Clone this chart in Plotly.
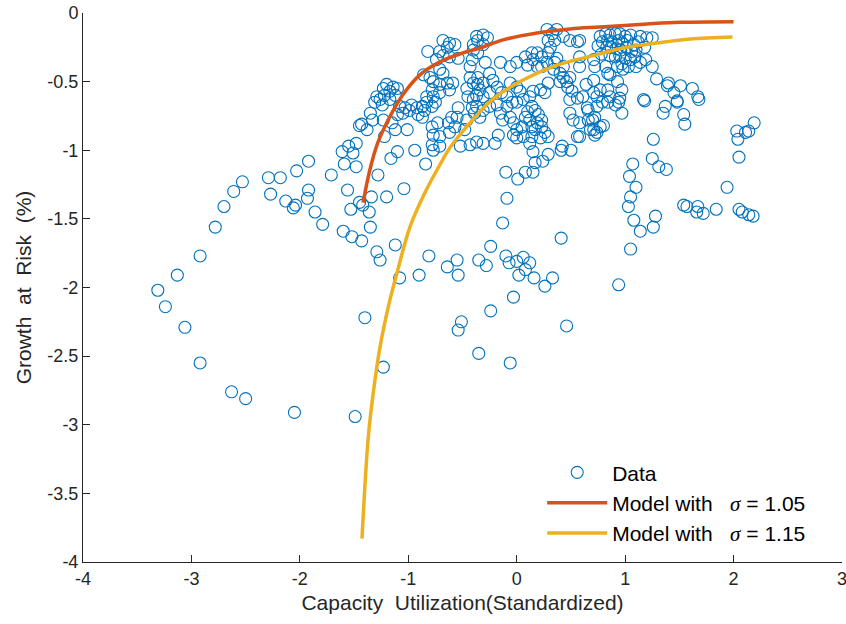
import plotly.graph_objects as go

# ---------------- data ----------------
data_x = [
 -3.31,-3.24,-3.13,-3.06,-2.92,-2.92,-2.78,-2.70,-2.63,-2.61,-2.53,-2.50,-2.29,-2.27,-2.18,-2.13,-2.06,-2.04,-2.05,-2.03,
 -1.93,-1.92,-1.92,-1.86,-1.79,-1.71,-1.61,-1.60,-1.59,-1.55,-1.56,-1.53,-1.52,-1.51,-1.49,-1.48,-1.48,-1.45,-1.45,-1.43,
 -1.42,-1.40,-1.36,-1.35,-1.29,-1.26,-1.23,-1.28,-1.34,-1.20,-1.04,-1.16,-1.10,-0.94,-0.77,-0.84,-1.12,-1.08,-0.90,-0.81,
 -0.64,-0.55,-0.54,-0.35,-0.28,-0.24,-0.10,-0.07,0.00,0.06,0.12,0.02,0.08,0.16,0.26,0.33,-0.03,-0.24,-0.51,-0.54,
 -0.35,-0.06,0.46,0.41,-0.13,-0.09,-0.10,0.01,0.08,0.15,0.17,0.24,0.29,0.41,0.50,0.94,1.05,1.08,1.14,1.26,
 1.28,1.03,1.05,1.10,1.04,1.07,1.25,1.31,0.97,0.80,1.37,1.35,1.48,1.54,1.55,1.68,1.26,1.38,2.19,2.03,
 2.11,2.14,2.04,2.05,1.94,1.54,1.57,1.67,1.66,1.72,1.84,2.05,2.08,2.14,2.18,1.29,1.40,1.39,1.51,1.62,
 1.67,1.45,1.48,1.17,1.18,1.25,1.25,
 0.77,0.82,0.86,0.91,0.95,1.00,1.05,1.14,1.20,0.79,0.84,0.88,0.94,0.97,1.02,1.08,1.12,0.83,0.87,0.92,
 0.96,1.01,1.06,1.10,1.18,0.86,0.91,0.95,1.00,1.05,1.09,1.14,1.19,0.97,1.03,1.10,0.75,0.78,
 0.71,0.71,0.74,0.77,0.84,0.86,0.84,0.79,0.74,0.72,0.70,0.77,0.74,0.71,0.95,0.94,0.91,0.97,0.93,0.86,
 0.84,0.82,0.93,0.98,0.58,0.58,0.58,0.71,0.72,0.58,0.72,0.64,0.66,
 -0.37,-0.31,-0.27,-0.40,-0.31,-0.36,-0.29,-0.43,-0.15,-0.06,0.00,0.08,0.14,0.19,0.23,0.29,0.31,0.29,0.33,0.28,
 0.37,0.35,0.43,0.49,0.56,0.15,0.10,0.19,0.23,0.28,0.34,0.40,0.43,0.49,0.46,0.40,0.47,0.51,0.43,0.35,
 0.37,-0.43,-0.40,-0.36,-0.31,-0.34,-0.37,-0.40,-0.31,-0.25,-0.18,-0.14,-0.09,-0.04,-0.09,0.00,0.06,0.12,0.15,0.22,
 0.26,0.29,-0.06,0.00,0.03,-0.22,-0.25,-0.41,-0.39,-0.34,-0.31,-0.25,-0.18,-0.15,-0.13,-0.06,-0.03,0.00,0.05,0.08,
 0.10,0.14,0.17,0.20,0.23,0.12,0.14,0.17,0.19,0.23,0.26,0.29,0.22,0.14,0.06,0.00,-0.03,-0.37,-0.31,-0.20,
 -0.17,0.12,0.15,0.42,0.56,0.49,0.56,0.61,0.65,0.49,0.52,0.58,0.66,0.68,
 -0.82,-0.68,-0.62,-0.57,-0.64,-0.71,-0.68,-0.62,-0.54,-0.74,-0.86,-0.80,-0.71,-0.68,-0.77,-0.71,-0.64,-0.59,-0.62,-0.78,
 -0.83,-0.77,-0.71,-0.83,-0.87,-0.78,-0.75,-1.20,-1.14,-1.10,-1.17,-1.22,-1.26,-1.29,-1.31,-1.24,-1.17,-1.12,-1.08,-1.03,
 -0.99,-1.05,-1.10,-0.97,-0.92,-0.91,-0.85,-0.87,-1.35,-1.33,-1.43,-1.38,-1.23,-1.15,-1.12,-1.01,-1.22,-0.78,-0.73,-0.77,
 -0.71,-0.78,-0.71,-0.62,-0.57,-0.55,-0.54,-0.60,-0.63,-0.48,-0.46,-0.37,-0.52,-0.43,-0.46,-0.45,-0.36,-0.40,-0.41,-0.36,
 -1.23,
]
data_y = [
 -2.02,-2.14,-1.91,-2.29,-1.77,-2.55,-1.56,-1.41,-2.76,-1.30,-1.23,-2.81,-1.20,-1.32,-1.20,-1.37,-1.42,-1.40,-2.91,-1.15,
 -1.35,-1.29,-1.08,-1.45,-1.54,-1.18,-1.01,-1.59,-1.10,-0.97,-1.29,-1.43,-1.63,-1.02,-2.94,-0.95,-1.12,-0.82,-1.38,-1.66,
 -1.40,-2.22,-1.45,-1.56,-1.74,-1.80,-2.58,-1.18,-1.34,-1.34,-1.28,-1.06,-1.01,-1.00,-1.00,-1.10,-1.69,-1.93,-1.91,-1.77,
 -1.85,-1.80,-1.91,-1.80,-1.84,-1.70,-1.77,-1.82,-1.81,-1.78,-1.82,-1.91,-1.87,-1.93,-1.99,-1.93,-2.07,-2.17,-2.25,-2.31,
 -2.48,-2.55,-2.28,-1.64,-1.53,-1.35,-1.16,-1.21,-1.16,-1.16,-1.09,-1.08,-1.03,-1.00,-1.00,-1.98,-1.72,-1.51,-1.59,-1.56,
 -1.48,-1.41,-1.34,-1.27,-1.19,-1.10,-1.06,-1.12,-0.73,-0.82,-0.68,-0.73,-0.65,-0.74,-0.81,-0.63,-0.92,-1.14,-0.80,-0.86,
 -0.87,-0.86,-0.92,-1.05,-1.27,-1.40,-1.41,-1.41,-1.45,-1.46,-1.43,-1.43,-1.45,-1.47,-1.48,-0.48,-0.51,-0.53,-0.53,-0.55,
 -0.61,-0.58,-0.64,-0.63,-0.64,-0.39,-0.18,
 -0.17,-0.15,-0.16,-0.15,-0.15,-0.17,-0.16,-0.17,-0.18,-0.21,-0.20,-0.21,-0.20,-0.22,-0.20,-0.23,-0.21,-0.25,-0.25,-0.26,
 -0.27,-0.25,-0.28,-0.27,-0.25,-0.31,-0.32,-0.31,-0.33,-0.34,-0.32,-0.36,-0.34,-0.37,-0.39,-0.39,-0.24,-0.30,
 -0.49,-0.58,-0.61,-0.56,-0.56,-0.61,-0.65,-0.65,-0.68,-0.76,-0.78,-0.83,-0.87,-0.85,-0.62,-0.65,-0.67,-0.56,-0.50,-0.45,
 -0.44,-0.39,-0.39,-0.41,-0.20,-0.32,-0.39,-0.34,-0.39,-0.90,-0.89,-0.52,-0.71,
 -0.17,-0.16,-0.18,-0.23,-0.23,-0.29,-0.36,-0.39,-0.36,-0.39,-0.36,-0.32,-0.29,-0.29,-0.32,-0.29,-0.25,-0.20,-0.15,-0.12,
 -0.12,-0.20,-0.17,-0.20,-0.21,-0.34,-0.38,-0.39,-0.39,-0.36,-0.41,-0.44,-0.47,-0.47,-0.50,-0.50,-0.54,-0.57,-0.39,-0.36,
 -0.33,-0.47,-0.51,-0.47,-0.51,-0.56,-0.60,-0.63,-0.61,-0.58,-0.54,-0.58,-0.61,-0.65,-0.68,-0.65,-0.63,-0.61,-0.57,-0.56,
 -0.58,-0.51,-0.51,-0.54,-0.57,-0.49,-0.44,-0.69,-0.73,-0.76,-0.71,-0.68,-0.67,-0.73,-0.78,-0.76,-0.80,-0.85,-0.83,-0.76,
 -0.72,-0.68,-0.71,-0.74,-0.78,-0.78,-0.83,-0.85,-0.80,-0.83,-0.87,-0.90,-0.91,-0.90,-0.90,-0.91,-0.89,-0.94,-0.95,-0.95,
 -0.89,-0.95,-1.01,-0.97,-0.90,-0.63,-0.62,-0.61,-0.69,-0.73,-0.78,-0.80,-0.78,-0.85,
 -0.28,-0.20,-0.22,-0.23,-0.25,-0.28,-0.31,-0.32,-0.33,-0.34,-0.45,-0.47,-0.41,-0.44,-0.50,-0.52,-0.51,-0.51,-0.56,-0.56,
 -0.61,-0.61,-0.58,-0.65,-0.68,-0.68,-0.65,-0.52,-0.54,-0.55,-0.57,-0.60,-0.63,-0.61,-0.65,-0.67,-0.63,-0.60,-0.68,-0.69,
 -0.71,-0.73,-0.74,-0.67,-0.69,-0.74,-0.71,-0.76,-0.73,-0.78,-0.81,-0.85,-0.78,-0.80,-0.85,-0.85,-0.90,-0.83,-0.80,-0.89,
 -0.90,-0.96,-0.97,-0.87,-0.83,-0.76,-0.69,-0.76,-0.80,-0.85,-0.78,-0.68,-0.97,-0.96,-0.55,-0.61,-0.52,-0.27,-0.34,-0.20,
 -0.55,
]

# model curves
model1_x = [-1.417,-1.354,-1.281,-1.170,-1.050,-0.893,-0.708,-0.496,-0.339,-0.126,0.187,0.492,0.769,1.203,1.508,2.0]
model1_y = [-1.382,-1.142,-0.945,-0.756,-0.596,-0.451,-0.356,-0.291,-0.255,-0.196,-0.145,-0.116,-0.102,-0.080,-0.068,-0.063]
model2_x = [-1.427,-1.371,-1.325,-1.262,-1.178,-1.096,-0.985,-0.847,-0.708,-0.616,-0.431,-0.228,0.04,0.354,0.769,0.982,1.296,1.6,1.99]
model2_y = [-3.83,-3.11,-2.78,-2.44,-2.12,-1.87,-1.56,-1.31,-1.105,-0.982,-0.80,-0.633,-0.495,-0.385,-0.298,-0.255,-0.218,-0.189,-0.175]

x_ticks = [-4, -3, -2, -1, 0, 1, 2, 3]
x_labels = ["-4", "-3", "-2", "-1", "0", "1", "2", "3"]
y_ticks = [-4, -3.5, -3, -2.5, -2, -1.5, -1, -0.5, 0]
y_labels = ["-4", "-3.5", "-3", "-2.5", "-2", "-1.5", "-1", "-0.5", "0"]

n = min(len(data_x), len(data_y))

sig = "<span style='font-family:Liberation Serif'><i>σ</i></span>"

fig = go.Figure()
fig.add_trace(go.Scatter(
    x=data_x[:n], y=data_y[:n], mode="markers", name="Data", legendgroup="a",
    marker=dict(symbol="circle-open", size=12, color="#0072BD", line=dict(width=1.1, color="#0072BD")),
))
fig.add_trace(go.Scatter(
    x=model1_x, y=model1_y, mode="lines", line_shape="spline", legendgroup="b",
    name="Model with\u00a0\u00a0\u00a0" + sig + " = 1.05",
    line=dict(color="#D95319", width=3.5),
))
fig.add_trace(go.Scatter(
    x=model2_x, y=model2_y, mode="lines", line_shape="spline", legendgroup="c",
    name="Model with\u00a0\u00a0\u00a0" + sig + " = 1.15",
    line=dict(color="#EDB120", width=3.5),
))

axis_common = dict(
    showgrid=False, zeroline=False, showline=True, linecolor="#262626", linewidth=1,
    ticks="inside", ticklen=7, tickcolor="#262626", tickwidth=1,
    tickfont=dict(family="Liberation Sans, Arial", size=18, color="#262626"),
    mirror=False, automargin=False, ticklabeloverflow="allow",
)

fig.update_layout(
    width=846, height=624,
    margin=dict(l=83, r=4, t=13, b=62),
    paper_bgcolor="white", plot_bgcolor="white",
    font=dict(family="Liberation Sans, Arial", color="#262626"),
    xaxis=dict(range=[-4, 3], tickvals=x_ticks, ticktext=x_labels,
               title=dict(text="Capacity\u00a0 Utilization(Standardized)", font=dict(size=21), standoff=7),
               **axis_common),
    yaxis=dict(range=[-4, 0], tickvals=y_ticks, ticktext=y_labels,
               title=dict(text="Growth\u00a0 at\u00a0 Risk\u00a0 (%)", font=dict(size=21), standoff=10),
               **axis_common),
    legend=dict(x=0.605, y=0.2, xanchor="left", yanchor="top", bgcolor="rgba(0,0,0,0)",
                font=dict(size=21, color="black"), itemwidth=60, tracegroupgap=0,
                traceorder="grouped"),
    showlegend=True,
)

# remove the default 8px page margin so the figure fills the window exactly
fig.write_html("out.html", config={"displayModeBar": False},
               post_script="document.body.style.margin='0';")
